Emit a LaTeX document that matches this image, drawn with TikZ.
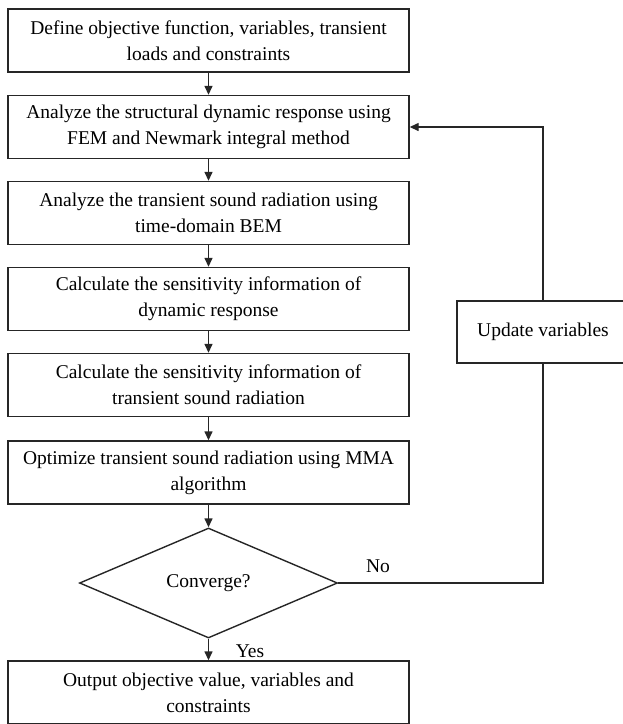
\documentclass[tikz,border=0pt]{standalone}
\usepackage{fontspec}
\setmainfont{Liberation Serif}
\usetikzlibrary{arrows.meta,shapes.geometric}
\begin{document}
\begin{tikzpicture}[x=1pt,y=-1pt,
  every node/.style={font=\fontsize{19.5}{26}\selectfont, text=black},
  procbox/.style={draw=black!85, line width=1.4pt, rectangle, minimum width=401pt, minimum height=63pt, align=center, inner sep=0pt},
  decbox/.style={draw=black!85, line width=1.4pt, diamond, minimum width=258pt, minimum height=110pt, aspect=2.35, inner sep=0pt},
  flow/.style={draw=black!85, line width=1.4pt, -{Triangle[length=9pt,width=8pt]}},
  plain/.style={draw=black!85, line width=1.4pt}]
\useasboundingbox (0,0) rectangle (623,724);
\clip (0,0) rectangle (623,724);
\node[procbox] (b1) at (208.5,40.5) {Define objective function, variables, transient\\loads and constraints};
\node[procbox] (b2) at (208.5,127) {Analyze the structural dynamic response using\\FEM and Newmark integral method};
\node[procbox] (b3) at (208.5,213) {Analyze the transient sound radiation using\\time-domain BEM};
\node[procbox] (b4) at (208.5,299) {Calculate the sensitivity information of\\dynamic response};
\node[procbox] (b5) at (208.5,385) {Calculate the sensitivity information of\\transient sound radiation};
\node[procbox] (b6) at (208.5,472.5) {Optimize transient sound radiation using MMA\\algorithm};
\node[decbox] (d) at (208.5,583) {Converge?};
\node[procbox] (b7) at (208.5,692.5) {Output objective value, variables and\\constraints};
\node[procbox, minimum width=172pt, minimum height=62pt] (up) at (543,332) {Update variables};
\draw[flow] (b1) -- (b2);
\draw[flow] (b2) -- (b3);
\draw[flow] (b3) -- (b4);
\draw[flow] (b4) -- (b5);
\draw[flow] (b5) -- (b6);
\draw[flow] (b6) -- (d);
\draw[flow] (d) -- (b7);
\coordinate (c1) at (543,583);
\coordinate (c2) at (543,127);
\draw[plain] (d.east) -- (c1) -- (up.south);
\draw[flow] (up.north) -- (c2) -- (b2.east);
\node at (378,566) {No};
\node at (250,651) {Yes};
\end{tikzpicture}
\end{document}
